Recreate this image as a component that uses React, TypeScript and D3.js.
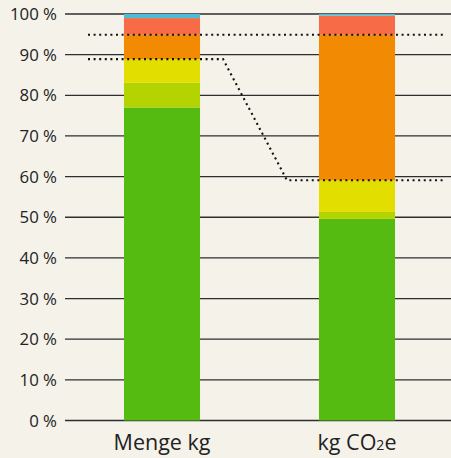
import React from "react";
import * as d3 from "d3";

const categories = ["Menge kg", "kg CO2e"];
const segmentKeys = ["green", "yellowGreen", "yellow", "orange", "red", "blue"];
const greenValues = [77.0, 49.6];
const yellowGreenValues = [6.1, 1.7];
const yellowValues = [5.8, 7.8];
const orangeValues = [6.0, 35.8];
const redValues = [4.1, 4.7];
const blueValues = [1.0, 0.4];
const tickValues = [0, 10, 20, 30, 40, 50, 60, 70, 80, 90, 100];
// dotted guide lines: [value at first bar, value at second bar]
const upperGuide = [94.9, 94.9];
const lowerGuide = [88.9, 59.1];

const colors: Record<string, string> = {
  green: "#55bb10",
  yellowGreen: "#b3d400",
  yellow: "#e2df00",
  orange: "#f28a03",
  red: "#f76c46",
  blue: "#4cbcd9",
};

export default function App() {
  const W = 451;
  const H = 458;
  const x0 = 65;
  const y = d3.scaleLinear().domain([0, 100]).range([420.5, 14]);
  const x = d3.scaleBand().domain(categories).range([64.5, 454.5]).paddingInner(0.61).paddingOuter(0.305);
  const bw = x.bandwidth();

  const rows = categories.map((c, i) => ({
    cat: c,
    green: greenValues[i],
    yellowGreen: yellowGreenValues[i],
    yellow: yellowValues[i],
    orange: orangeValues[i],
    red: redValues[i],
    blue: blueValues[i],
  }));
  const stack = d3.stack<any>().keys(segmentKeys)(rows);

  const b1 = x(categories[0])!;
  const b2 = x(categories[1])!;
  const lineGen = d3.line<[number, number]>().x((d) => d[0]).y((d) => y(d[1]));
  const upperPts: [number, number][] = [
    [88, upperGuide[0]],
    [443, upperGuide[1]],
  ];
  const lowerPts: [number, number][] = [
    [88, lowerGuide[0]],
    [b1 + bw + 23, lowerGuide[0]],
    [b2 - 32, lowerGuide[1]],
    [443, lowerGuide[1]],
  ];

  const font = "'Open Sans', 'Noto Sans', sans-serif";

  return (
    <svg width={W} height={H} style={{ position: "absolute", left: 0, top: 0, display: "block" }}>
      <rect width={W} height={H} fill="#f5f2ea" />
      {tickValues.map((t) => (
        <g key={t}>
          <line x1={x0} x2={W} y1={y(t)} y2={y(t)} stroke="#2e2e2e" strokeWidth={1.3} />
          <text x={57} y={y(t)} dy="0.36em" textAnchor="end" fontFamily={font} fontSize={16.8} fill="#222">
            {t} %
          </text>
        </g>
      ))}
      {stack.map((s) => (
        <g key={s.key} fill={colors[s.key]}>
          {s.map((d, i) => (
            <rect
              key={i}
              x={x(categories[i])!}
              width={bw}
              y={y(d[1])}
              height={y(d[0]) - y(d[1])}
            />
          ))}
        </g>
      ))}
      <path d={lineGen(upperPts)!} fill="none" stroke="#111" strokeWidth={2.1} strokeDasharray="2 3.6" />
      <path d={lineGen(lowerPts)!} fill="none" stroke="#111" strokeWidth={2.1} strokeDasharray="2 3.6" />
      <text x={b1 + bw / 2} y={450} textAnchor="middle" fontFamily={font} fontSize={21.5} fill="#222">
        Menge kg
      </text>
      <text x={b2 + bw / 2} y={450} textAnchor="middle" fontFamily={font} fontSize={21.5} fill="#222">
        kg CO<tspan fontSize={14}>2</tspan>e
      </text>
    </svg>
  );
}
